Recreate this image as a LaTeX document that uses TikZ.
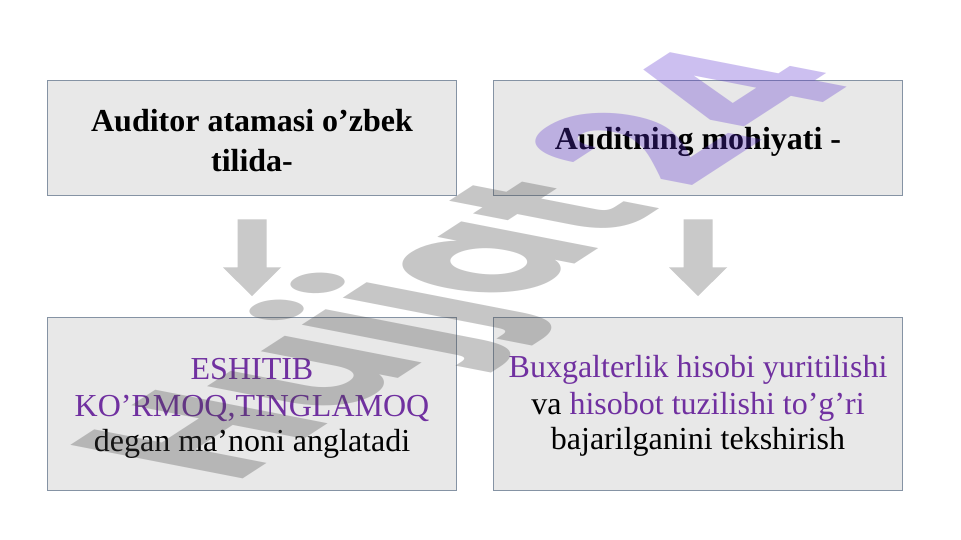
\documentclass[tikz,border=0pt]{standalone}
\usepackage{fontspec}
\setmainfont{Liberation Serif}
\newfontfamily\wmfont{Poppins}
\usetikzlibrary{calc}
\definecolor{boxfill}{HTML}{E8E8E8}
\definecolor{boxline}{HTML}{8593A4}
\definecolor{arrowgrey}{HTML}{C9C9C9}
\definecolor{txtpurple}{HTML}{7030A0}
\definecolor{wmgrey}{RGB}{69,69,69}
\definecolor{wmpurple}{RGB}{89,46,206}
\begin{document}
\begin{tikzpicture}[x=1bp,y=-1bp,
  box/.style={draw=boxline, line width=1bp, fill=boxfill, inner sep=0pt, minimum width=409bp},
  topbox/.style={box, minimum height=115.5bp},
  botbox/.style={box, minimum height=173bp},
  headtxt/.style={anchor=base, inner sep=0pt, font=\fontsize{32bp}{38bp}\selectfont\bfseries},
  bodytxt/.style={anchor=base, inner sep=0pt, font=\fontsize{32bp}{36bp}\selectfont},
  blockarrow/.style={fill=arrowgrey},
  wmtext/.style={anchor=base west, inner sep=0pt, transform shape, text opacity=0.3,
    font=\wmfont\bfseries\fontsize{100bp}{100bp}\selectfont}]
\useasboundingbox (0,0) rectangle (961,540);
\fill[white] (0,0) rectangle (961,540);

% boxes
\node[topbox] (tl) at (252,138.25) {};
\node[topbox] (tr) at (698,138.25) {};
\node[botbox] (bl) at (252,404) {};
\node[botbox] (br) at (698,404) {};

% block arrows
\foreach \s/\t in {tl/bl, tr/br}{
  \fill[blockarrow] ($(\s.south)+(-14.5,23)$) -- ++(29,0) -- ++(0,48) -- ++(14.5,0)
    -- ($(\s.south)+(0,99.5)$) -- ($(\s.south)+(-29,71)$) -- ++(14.5,0) -- cycle;
}

% texts
\node[headtxt] (tl1) at (252,132) {Auditor atamasi o’zbek};
\node[headtxt] (tl2) at (252,172) {tilida-};
\node[headtxt] (tr1) at (698,150) {Auditning mohiyati -};

\node[bodytxt, text=txtpurple] (bl1) at (252,380) {ESHITIB};
\node[bodytxt, text=txtpurple] (bl2) at (252,416) {KO’RMOQ,TINGLAMOQ};
\node[bodytxt] (bl3) at (252,451) {degan ma’noni anglatadi};

\node[bodytxt, text=txtpurple] (br1) at (698,378) {Buxgalterlik hisobi yuritilishi};
\node[bodytxt] (br2) at (698,414) {va \textcolor{txtpurple}{hisobot tuzilishi to’g’ri}};
\node[bodytxt] (br3) at (698,449) {bajarilganini tekshirish};

% watermark
\begin{scope}[cm={1.397,0.907,-2.455,0.478,(234,485)}]
\node[wmtext] (wm) at (0,0) {\textcolor{wmgrey}{Hujjat}\kern18bp\textcolor{wmpurple}{24}};
\end{scope}
\end{tikzpicture}
\end{document}
